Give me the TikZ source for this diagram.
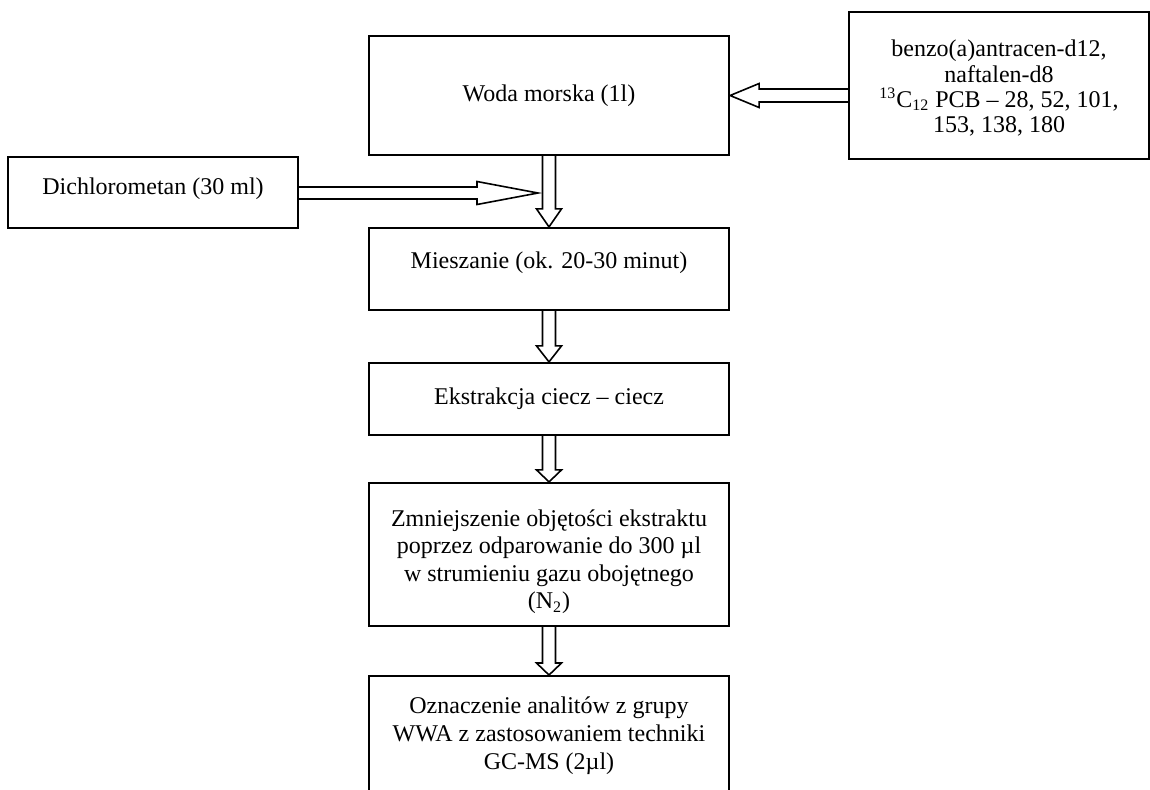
\documentclass[tikz,border=0pt]{standalone}
\usepackage{fontspec}
\setmainfont{Liberation Serif}
\usetikzlibrary{calc}
\tikzset{
  flowbox/.style={draw, line width=1.1pt, inner sep=0pt, align=center,
    minimum width=180pt, font=\fontsize{12pt}{13.8pt}\selectfont},
  blkarrow/.style={draw, line width=0.8pt, line join=miter, fill=white},
}
\newcommand\blkdown[3]{%
  \draw[blkarrow] let \p1=(#1), \p2=(#2) in
    (\x1-3.25pt,\y1) -- (\x1-3.25pt,\y2+#3) -- (\x1-6.25pt,\y2+#3) -- (\x1,\y2)
    -- (\x1+6.25pt,\y2+#3) -- (\x1+3.25pt,\y2+#3) -- (\x1+3.25pt,\y1);}
\newcommand\blkright[5]{%
  \draw[blkarrow] let \p1=(#1), \p2=(#2) in
    (\x1,\y1+#4) -- (\x2-#3,\y1+#4) -- (\x2-#3,\y1+#5) -- (\x2,\y1)
    -- (\x2-#3,\y1-#5) -- (\x2-#3,\y1-#4) -- (\x1,\y1-#4);}
\newcommand\blkleft[5]{%
  \draw[blkarrow] let \p1=(#1), \p2=(#2) in
    (\x1,\y1+#4) -- (\x2+#3,\y1+#4) -- (\x2+#3,\y1+#5) -- (\x2,\y1)
    -- (\x2+#3,\y1-#5) -- (\x2+#3,\y1-#4) -- (\x1,\y1-#4);}
\begin{document}
\begin{tikzpicture}[x=0.5pt,y=-0.5pt]
\useasboundingbox (0,0) rectangle (1150,789);
\clip (0,0) rectangle (1150,789);

\node[flowbox, minimum height=59.5pt] (woda) at (549,95.5) {Woda morska (1l)};
\node[flowbox, minimum width=150pt, minimum height=73.5pt,
  font=\fontsize{12pt}{12.6pt}\selectfont] (src) at (999,85.5)
  {\rule{0pt}{11pt}benzo(a)antracen-d12,\\naftalen-d8\\\textsuperscript{13}C\textsubscript{12} PCB – 28, 52, 101,\\153, 138, 180};
\node[flowbox, minimum width=145pt, minimum height=35.5pt, text depth=6pt] (dichl) at (153,192.5) {Dichlorometan (30 ml)};
\node[flowbox, minimum height=41pt, text depth=9pt] (miesz) at (549,269) {Mieszanie (ok. 20-30 minut)};
\node[flowbox, minimum height=36pt] (ekstr) at (549,399) {Ekstrakcja ciecz – ciecz};
\node[flowbox, minimum height=71.5pt] (zmn) at (549,554.5)
  {\rule{0pt}{15.5pt}Zmniejszenie objętości ekstraktu\\poprzez odparowanie do 300 µl\\w strumieniu gazu obojętnego\\(N\textsubscript{2})};
\node[flowbox, anchor=north, inner ysep=10.5pt, text depth=60pt] (ozn) at (549,675)
  {Oznaczenie analitów z grupy\\WWA z zastosowaniem techniki\\GC-MS (2µl)};

\coordinate (tipL) at (538,193);

\blkdown{woda.south}{miesz.north}{9pt}
\blkdown{miesz.south}{ekstr.north}{8pt}
\blkdown{ekstr.south}{zmn.north}{6pt}
\blkdown{zmn.south}{ozn.north}{6pt}
\blkright{dichl.east |- tipL}{tipL}{30.5pt}{3pt}{5.75pt}
\blkleft{src.west |- woda.east}{woda.east}{14.5pt}{3.25pt}{6pt}
\end{tikzpicture}
\end{document}
